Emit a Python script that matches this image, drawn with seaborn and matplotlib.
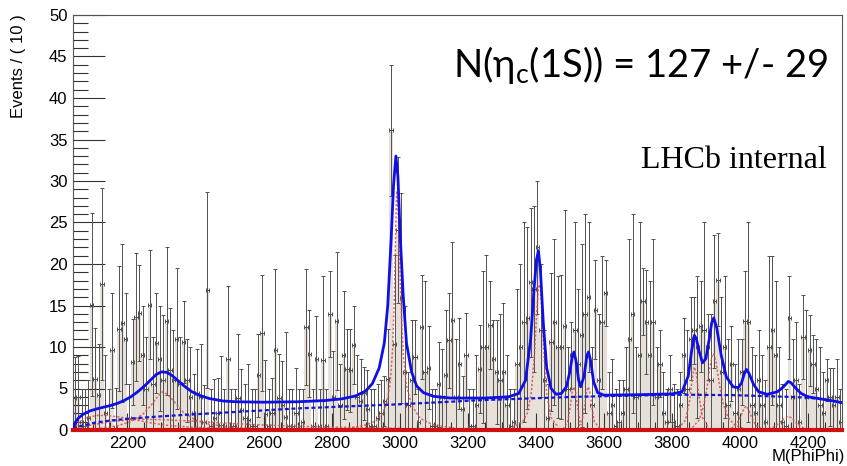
import numpy as np
import pandas as pd
import matplotlib
matplotlib.use("Agg")
import matplotlib.pyplot as plt
import seaborn as sns

# binning of M(PhiPhi): 10 MeV bins from 2040 to 4300
bin_lo, bin_hi, bin_w = 2040, 4300, 10

events = [
    3.9, 4.0, 1.0, 0.5, 1.5, 15.1, 6.2, 4.2, 17.6, 2.0,
    0.0, 9.6, 0.3, 12.2, 12.9, 11.0, 1.5, 8.2, 13.6, 14.1,
    9.0, 5.0, 15.1, 5.6, 10.5, 8.6, 6.0, 13.1, 7.2, 6.0,
    11.0, 5.5, 10.6, 6.0, 4.0, 2.0, 4.5, 4.0, 1.0, 16.9,
    0.5, 1.5, 2.0, 0.6, 0.5, 8.6, 0.5, 0.5, 3.9, 2.4,
    1.5, 1.2, 0.5, 0.5, 6.6, 11.7, 1.9, 0.5, 2.0, 9.6,
    3.8, 3.0, 1.6, 0.5, 0.5, 2.0, 0.5, 1.0, 12.4, 9.2,
    0.5, 8.6, 0.5, 8.4, 0.5, 14.0, 4.0, 13.1, 3.0, 9.0,
    7.3, 7.2, 10.2, 4.0, 3.5, 4.4, 2.5, 0.5, 0.5, 1.5,
    2.0, 3.5, 6.2, 36.1, 10.4, 24.1, 15.9, 7.0, 3.0, 6.0,
    8.8, 1.0, 12.4, 7.0, 7.5, 0.5, 0.5, 5.5, 4.0, 6.6,
    10.8, 13.3, 4.0, 8.0, 2.5, 9.0, 0.5, 0.5, 3.0, 7.4,
    10.0, 10.0, 12.6, 8.6, 7.0, 6.0, 7.0, 3.0, 0.5, 1.0,
    8.0, 10.0, 13.0, 13.5, 17.8, 17.0, 22.0, 12.0, 6.0, 1.5,
    10.6, 13.0, 10.0, 10.0, 12.5, 5.0, 9.0, 12.0, 8.0, 11.4,
    14.0, 16.0, 3.0, 14.5, 6.0, 13.0, 16.5, 2.0, 3.0, 0.5,
    1.0, 2.0, 5.0, 11.0, 14.0, 4.0, 9.0, 15.5, 13.0, 9.0,
    13.0, 4.0, 8.0, 2.0, 1.0, 5.0, 1.0, 0.5, 3.0, 9.0,
    5.0, 11.0, 12.0, 10.0, 12.5, 12.0, 10.0, 6.0, 15.5, 18.1,
    7.0, 10.0, 3.0, 8.0, 2.0, 5.0, 7.0, 13.1, 13.0, 3.0,
    2.0, 6.0, 3.0, 1.0, 10.0, 12.0, 9.0, 3.0, 1.0, 0.5,
    13.5, 4.0, 6.0, 1.0, 11.2, 4.0, 9.6, 8.0, 5.0, 3.0,
    2.0, 6.0, 4.0, 3.0, 4.0, 1.0,
]
errors = [
    4.9, 4.9, 4.0, 4.5, 4.5, 11.0, 6.1, 6.2, 11.6, 7.0,
    5.0, 6.9, 4.8, 7.5, 9.5, 5.5, 4.0, 5.2, 7.7, 5.8,
    6.0, 6.2, 6.6, 5.6, 6.0, 6.3, 7.8, 8.9, 7.5, 6.0,
    8.5, 5.7, 4.9, 5.0, 6.0, 4.8, 5.3, 6.4, 4.4, 11.8,
    4.5, 4.7, 4.3, 8.3, 4.5, 8.8, 4.5, 4.5, 7.7, 5.0,
    4.0, 6.7, 4.5, 4.5, 5.0, 7.0, 6.5, 4.5, 4.3, 9.8,
    5.4, 5.3, 10.2, 4.5, 4.5, 5.5, 4.5, 4.0, 7.0, 5.2,
    4.5, 5.1, 4.5, 10.2, 4.5, 5.2, 5.5, 8.3, 5.0, 7.7,
    4.9, 5.0, 4.7, 5.0, 5.1, 3.2, 4.7, 4.5, 4.5, 4.1,
    4.0, 3.0, 6.0, 7.9, 10.7, 8.8, 12.6, 8.0, 4.0, 7.3,
    4.5, 4.0, 6.3, 10.9, 5.0, 4.5, 4.5, 5.1, 5.8, 7.9,
    5.7, 9.4, 7.0, 5.5, 4.0, 5.1, 4.5, 4.5, 6.0, 5.3,
    9.1, 11.1, 5.3, 4.7, 6.3, 8.0, 8.3, 6.0, 4.5, 4.0,
    9.0, 10.0, 12.0, 11.0, 9.0, 10.0, 8.0, 8.0, 6.0, 4.0,
    8.3, 10.0, 8.5, 8.7, 14.0, 5.0, 4.0, 13.0, 9.0, 11.0,
    12.0, 9.0, 7.0, 6.0, 8.0, 8.0, 4.0, 5.0, 5.5, 4.5,
    5.0, 4.0, 5.0, 12.0, 12.0, 6.0, 16.0, 4.0, 6.3, 9.0,
    10.0, 6.0, 4.0, 5.0, 4.0, 4.0, 4.5, 4.5, 4.0, 4.5,
    7.0, 5.0, 4.0, 8.5, 5.5, 13.0, 4.0, 8.0, 8.0, 5.6,
    9.0, 8.5, 8.0, 4.5, 6.0, 6.0, 4.0, 6.0, 12.0, 7.0,
    7.0, 6.0, 6.0, 5.0, 11.0, 9.0, 9.0, 7.0, 4.5, 4.5,
    5.0, 7.0, 7.0, 4.5, 5.1, 10.5, 4.3, 3.5, 6.0, 7.0,
    5.0, 2.5, 3.5, 4.5, 4.5, 4.0,
]

# total fit
fit_x = [2040, 2045, 2055, 2070, 2090, 2110, 2130, 2150, 2170, 2190, 2210, 2230,
         2250, 2270, 2285, 2300, 2315, 2330, 2350, 2370, 2390, 2410, 2440, 2480,
         2520, 2600, 2700, 2780, 2830, 2870, 2900, 2920, 2940, 2955, 2965, 2975,
         2982, 2989, 2995, 3001, 3010, 3020, 3035, 3050, 3070, 3100, 3150, 3250,
         3320, 3350, 3370, 3385, 3395, 3402, 3408, 3414, 3422, 3432, 3445, 3460,
         3475, 3490, 3500, 3507, 3512, 3518, 3526, 3532, 3542, 3550, 3555, 3561,
         3570, 3582, 3600, 3700, 3800, 3830, 3848, 3858, 3866, 3872, 3880, 3890,
         3900, 3910, 3917, 3923, 3932, 3945, 3960, 3980, 3995, 4005, 4013, 4019,
         4027, 4040, 4055, 4080, 4110, 4128, 4142, 4150, 4165, 4180, 4200, 4230,
         4260, 4300]
fit_y = [0.0, 0.8, 1.4, 1.9, 2.3, 2.55, 2.75, 2.95, 3.2, 3.55, 4.0, 4.6,
         5.3, 6.1, 6.7, 7.0, 6.95, 6.6, 5.9, 5.2, 4.6, 4.2, 3.8, 3.5,
         3.4, 3.35, 3.4, 3.55, 3.75, 4.1, 4.7, 5.6, 7.5, 10.5, 15.0, 23.0,
         29.5, 33.0, 30.5, 24.0, 16.5, 10.5, 7.0, 5.3, 4.5, 4.05, 3.85, 3.85,
         4.0, 4.4, 6.0, 11.0, 17.0, 20.5, 21.6, 19.0, 13.0, 7.5, 5.0, 4.3,
         4.4, 5.2, 7.0, 8.8, 9.4, 8.4, 6.0, 5.2, 6.5, 8.9, 9.4, 8.4,
         5.8, 4.5, 4.2, 4.25, 4.35, 4.6, 6.5, 9.5, 11.4, 11.0, 9.5, 8.1,
         8.6, 11.0, 12.9, 13.5, 12.3, 9.0, 6.4, 5.2, 5.1, 5.7, 6.8, 7.3,
         6.8, 5.5, 4.6, 4.3, 4.6, 5.2, 5.85, 5.7, 5.0, 4.4, 4.0, 3.8,
         3.6, 3.3]

# background component (blue dashed)
bkg_x = [2040, 2060, 2100, 2150, 2215, 2300, 2400, 2550, 2700, 2850, 3000, 3120,
         3240, 3380, 3520, 3680, 3830, 3980, 4140, 4200, 4250, 4300]
bkg_y = [0.1, 0.45, 0.85, 1.15, 1.4, 1.65, 1.9, 2.25, 2.6, 2.85, 3.1, 3.35,
         3.6, 3.8, 4.0, 4.15, 4.25, 4.2, 4.0, 3.9, 3.65, 3.3]

# signal components (red dashed)
components = {
    "low1": ([2040, 2060, 2080, 2110, 2140, 2180, 2220, 2270, 2320, 2400, 2500, 2600, 2800],
             [0.0, 1.0, 1.5, 1.75, 1.75, 1.55, 1.25, 0.85, 0.55, 0.3, 0.15, 0.08, 0.03]),
    "low2": ([2040, 2080, 2150, 2220, 2300, 2400, 2500, 2600, 2700, 2800, 3000],
             [0.0, 0.5, 1.0, 1.3, 1.25, 1.05, 0.8, 0.6, 0.45, 0.35, 0.2]),
    "f2300": ([2120, 2170, 2210, 2245, 2270, 2290, 2303, 2318, 2338, 2365, 2400, 2440, 2500, 2600, 2700],
              [0.2, 0.5, 1.0, 1.9, 3.0, 4.1, 4.6, 4.3, 3.4, 2.1, 1.2, 0.7, 0.35, 0.15, 0.05]),
    "etac": ([2860, 2900, 2930, 2950, 2963, 2972, 2979, 2984, 2988, 2991, 2995, 3000,
              3006, 3012, 3020, 3035, 3060, 3100, 3160],
             [0.3, 0.6, 1.1, 2.0, 3.4, 5.6, 9.5, 15.5, 23.0, 28.8, 27.0, 20.5,
              13.0, 8.5, 5.4, 3.0, 1.4, 0.6, 0.25]),
    "chic0": ([3330, 3360, 3375, 3387, 3396, 3402, 3408, 3413, 3418, 3425, 3433, 3445, 3465],
              [0.3, 0.9, 2.0, 4.5, 9.0, 13.5, 17.2, 17.5, 14.0, 8.5, 4.0, 1.5, 0.4]),
    "chic1": ([3480, 3494, 3502, 3507, 3512, 3517, 3522, 3530, 3545],
              [0.1, 1.0, 3.0, 4.6, 5.2, 4.6, 3.0, 1.0, 0.1]),
    "chic2": ([3520, 3536, 3544, 3549, 3554, 3559, 3564, 3572, 3590],
              [0.1, 1.0, 3.0, 4.6, 5.2, 4.6, 3.0, 1.0, 0.1]),
    "x3872": ([3820, 3840, 3852, 3860, 3866, 3872, 3879, 3890, 3905],
              [0.2, 1.2, 3.5, 6.2, 7.6, 6.8, 4.2, 1.5, 0.4]),
    "x3915": ([3860, 3880, 3893, 3903, 3912, 3918, 3923, 3930, 3940, 3950, 3965, 3985, 4010],
              [0.3, 1.2, 2.8, 5.0, 7.6, 8.9, 9.2, 8.2, 5.4, 3.3, 1.5, 0.6, 0.2]),
    "x4020": ([3975, 3992, 4004, 4012, 4018, 4025, 4034, 4046, 4062],
              [0.2, 0.8, 1.8, 2.6, 2.9, 2.5, 1.6, 0.6, 0.2]),
    "x4140": ([4085, 4105, 4120, 4132, 4142, 4152, 4164, 4178, 4195],
              [0.1, 0.5, 1.0, 1.45, 1.65, 1.45, 0.9, 0.4, 0.1]),
}
# empty component lying on zero
zero_x = [2040, 4300]
zero_y = [0.0, 0.0]

centers = np.arange(bin_lo, bin_hi, bin_w) + bin_w / 2
df = pd.DataFrame({"mass": centers, "events": events, "err": errors})

plt.rcParams["font.family"] = ["Liberation Sans", "DejaVu Sans"]
plt.rcParams["mathtext.fontset"] = "custom"
plt.rcParams["mathtext.rm"] = "Lato"

fig = plt.figure(figsize=(8.47, 4.66), dpi=100)
ax = fig.add_axes([73 / 847, 36 / 466, 769 / 847, 415 / 466])

sns.histplot(data=df, x="mass", weights="events", binwidth=bin_w,
             binrange=(bin_lo, bin_hi), ax=ax, element="bars", fill=True,
             color="#e6e0d8", alpha=1.0, linewidth=0)

ax.errorbar(df["mass"], df["events"], yerr=df["err"], xerr=bin_w / 2, fmt="none",
            ecolor="#505050", elinewidth=0.7, capsize=1.2, capthick=0.7, zorder=3)

for cx, cy in components.values():
    ax.plot(cx, cy, color="#d85050", lw=1.1, ls=(0, (1.5, 1.2)), alpha=0.85, zorder=4)

ax.plot(bkg_x, bkg_y, color="#1515d8", lw=1.6, ls=(0, (1.8, 1.2)), zorder=5)
ax.plot(fit_x, fit_y, color="#0f0fe6", lw=2.0, zorder=6)
ax.plot(zero_x, zero_y, color="#d01010", lw=3.0, zorder=7, clip_on=False)

ax.set_xlim(bin_lo, bin_hi)
ax.set_ylim(0, 50)
ax.set_xticks(np.arange(2200, 4201, 200))
ax.set_xticks(np.arange(2050, 4300, 50), minor=True)
ax.set_yticks(np.arange(0, 51, 5))
ax.set_yticks(np.arange(0, 51, 1), minor=True)
ax.tick_params(axis="both", which="both", direction="in", colors="#333333",
               labelcolor="black", labelsize=12)
ax.tick_params(axis="y", which="major", length=23, width=0.8, pad=4)
ax.tick_params(axis="y", which="minor", length=11, width=0.8)
ax.tick_params(axis="x", which="major", length=12, width=0.8, pad=4)
ax.tick_params(axis="x", which="minor", length=6, width=0.8)
for s in ax.spines.values():
    s.set_color("#555555")
    s.set_linewidth(0.8)
ax.set_xlabel("")
ax.set_ylabel("")

fig.text(18 / 847, 1 - 14 / 466, "Events / ( 10 )", rotation=90, ha="center",
         va="top", fontsize=12)
fig.text(845 / 847, 1 - 457 / 466, "M(PhiPhi)", ha="right", va="center", fontsize=12)

fig.text(828 / 847, 1 - 77 / 466, "N(η$_{\\mathrm{c}}$(1S)) = 127 +/- 29",
         ha="right", va="baseline", fontsize=27.5, family=["Lato", "DejaVu Sans"])
fig.text(827 / 847, 1 - 168 / 466, "LHCb internal", ha="right", va="baseline",
         fontsize=23, family="Liberation Serif")

fig.savefig("out.png", dpi=100)
